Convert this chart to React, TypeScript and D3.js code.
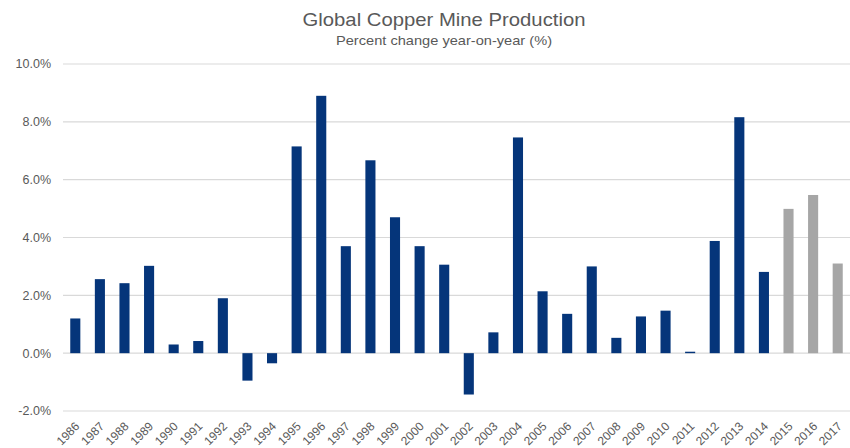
import { useRef, useEffect } from 'react'
import * as d3 from 'd3'

const years = [
  '1986', '1987', '1988', '1989', '1990', '1991', '1992', '1993', '1994', '1995',
  '1996', '1997', '1998', '1999', '2000', '2001', '2002', '2003', '2004', '2005',
  '2006', '2007', '2008', '2009', '2010', '2011', '2012', '2013', '2014', '2015',
  '2016', '2017'
]
const changes = [
  1.2, 2.56, 2.42, 3.02, 0.3, 0.42, 1.9, -0.95, -0.35, 7.15,
  8.9, 3.7, 6.67, 4.7, 3.7, 3.06, -1.43, 0.72, 7.46, 2.14,
  1.36, 3.0, 0.53, 1.27, 1.47, 0.05, 3.88, 8.16, 2.81, 4.99,
  5.47, 3.1
]
// years from here on are forecasts (grey bars)
const forecastYears = ['2015', '2016', '2017']
const yTicks = [-2, 0, 2, 4, 6, 8, 10]

const title = 'Global Copper Mine Production'
const subtitle = 'Percent change year-on-year (%)'

const width = 850
const height = 448
const margin = { top: 64, right: 0, bottom: 37, left: 63 }

export default function App() {
  const svgRef = useRef<SVGSVGElement>(null)

  useEffect(() => {
    if (!svgRef.current) return
    const svg = d3.select(svgRef.current)
    svg.selectAll('*').remove()

    const data = years.map((year, i) => ({ year, value: changes[i] }))

    const x = d3.scaleBand<string>()
      .domain(years)
      .range([margin.left, width - margin.right])
      .paddingInner(0.59)
      .paddingOuter(0.295)

    const y = d3.scaleLinear()
      .domain([-2, 10])
      .range([height - margin.bottom, margin.top])

    // gridlines
    svg.append('g')
      .selectAll('line')
      .data(yTicks)
      .enter()
      .append('line')
      .attr('x1', margin.left)
      .attr('x2', width - margin.right)
      .attr('y1', d => y(d))
      .attr('y2', d => y(d))
      .attr('stroke', '#d9d9d9')
      .attr('stroke-width', 1.2)

    // y tick labels
    svg.append('g')
      .selectAll('text')
      .data(yTicks)
      .enter()
      .append('text')
      .attr('x', 51)
      .attr('y', d => y(d))
      .attr('dy', '0.35em')
      .attr('text-anchor', 'end')
      .attr('fill', '#595959')
      .attr('font-size', '12.5px')
      .text(d => `${d.toFixed(1)}%`)

    // bars
    svg.append('g')
      .selectAll('rect')
      .data(data)
      .enter()
      .append('rect')
      .attr('x', d => x(d.year)!)
      .attr('width', x.bandwidth())
      .attr('y', d => y(Math.max(0, d.value)))
      .attr('height', d => Math.abs(y(d.value) - y(0)))
      .attr('fill', d => forecastYears.includes(d.year) ? '#a6a6a6' : '#05357a')

    // x labels, rotated
    svg.append('g')
      .selectAll('text')
      .data(years)
      .enter()
      .append('text')
      .attr('text-anchor', 'end')
      .attr('fill', '#595959')
      .attr('font-size', '12px')
      .attr('transform', d => {
        const cx = x(d)! + x.bandwidth() / 2 + 5
        return `translate(${cx},${height - margin.bottom + 16}) rotate(-45)`
      })
      .text(d => d)

    // titles
    svg.append('text')
      .attr('x', 444)
      .attr('y', 26)
      .attr('text-anchor', 'middle')
      .attr('fill', '#595959')
      .attr('font-size', '19px')
      .attr('textLength', 283)
      .attr('lengthAdjust', 'spacingAndGlyphs')
      .text(title)

    svg.append('text')
      .attr('x', 444)
      .attr('y', 45)
      .attr('text-anchor', 'middle')
      .attr('fill', '#595959')
      .attr('font-size', '13.5px')
      .attr('textLength', 216)
      .attr('lengthAdjust', 'spacingAndGlyphs')
      .text(subtitle)
  }, [])

  return (
    <svg
      ref={svgRef}
      width={width}
      height={height}
      style={{ position: 'absolute', left: 0, top: 0, background: '#fff', fontFamily: '"Liberation Sans", Arial, sans-serif' }}
    />
  )
}
